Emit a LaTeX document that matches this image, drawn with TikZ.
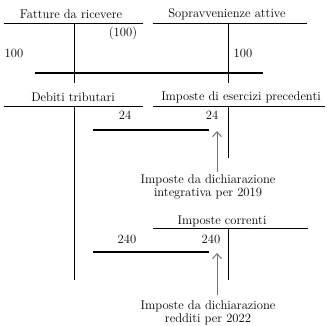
\documentclass[tikz,border=0pt]{standalone}
\usetikzlibrary{arrows.meta}
\begin{document}
\begin{tikzpicture}[x=1pt,y=-1pt,
  lbl/.style={inner sep=0pt,font=\fontsize{12.6}{12.5}\selectfont},
  thin/.style={line width=0.8pt},
  thick/.style={line width=2.2pt},
  gray arrow/.style={draw=black!55,line width=1pt,-{Straight Barb[length=5pt,width=9pt]}}]
\useasboundingbox (0,0) rectangle (327,326);
% top left account
\node[lbl] (t1) at (71,14) {Fatture da ricevere};
\coordinate (h1a) at (4,23); \coordinate (h1b) at (143,23);
\draw[thin] (h1a) -- (h1b);
\coordinate (v1a) at (74,23); \coordinate (v1b) at (74,83);
\draw[thin] (v1a) -- (v1b);
\node[lbl] (n100c) at (123,33) {(100)};
\node[lbl] (n100a) at (14,53) {100};
% top right account
\node[lbl] (t2) at (227,14) {Sopravvenienze attive};
\coordinate (h2a) at (153,23); \coordinate (h2b) at (307,23);
\draw[thin] (h2a) -- (h2b);
\coordinate (v2a) at (228,23); \coordinate (v2b) at (228,83);
\draw[thin] (v2a) -- (v2b);
\node[lbl] (n100b) at (243,53) {100};
\coordinate (k1a) at (35,73); \coordinate (k1b) at (263,73);
\draw[thick] (k1a) -- (k1b);
% Debiti tributari
\node[lbl] (t3) at (73,97) {Debiti tributari};
\coordinate (h3a) at (4,106); \coordinate (h3b) at (143,106);
\draw[thin] (h3a) -- (h3b);
\coordinate (v3a) at (74,106); \coordinate (v3b) at (74,280);
\draw[thin] (v3a) -- (v3b);
% Imposte di esercizi precedenti
\node[lbl] (t4) at (241,97) {Imposte di esercizi precedenti};
\coordinate (h4a) at (153,106); \coordinate (h4b) at (325,106);
\draw[thin] (h4a) -- (h4b);
\coordinate (v4a) at (228,106); \coordinate (v4b) at (228,158);
\draw[thin] (v4a) -- (v4b);
\node[lbl] (n24a) at (125,115) {24};
\node[lbl] (n24b) at (212,115) {24};
\coordinate (k2a) at (93,130); \coordinate (k2b) at (209,130);
\draw[thick] (k2a) -- (k2b);
\node[lbl,align=center] (c1) at (208,187) {Imposte da dichiarazione\\integrativa per 2019};
\coordinate (a1) at (217,131);
\draw[gray arrow] (217,172) -- (a1);
% Imposte correnti
\node[lbl] (t5) at (222,221) {Imposte correnti};
\coordinate (h5a) at (153,228); \coordinate (h5b) at (308,228);
\draw[thin] (h5a) -- (h5b);
\coordinate (v5a) at (228,228); \coordinate (v5b) at (228,280);
\draw[thin] (v5a) -- (v5b);
\node[lbl] (n240a) at (127,239) {240};
\node[lbl] (n240b) at (211,239) {240};
\coordinate (k3a) at (93,252); \coordinate (k3b) at (209,252);
\draw[thick] (k3a) -- (k3b);
\node[lbl,align=center] (c2) at (208,313) {Imposte da dichiarazione\\redditi per 2022};
\coordinate (a2) at (217,253);
\draw[gray arrow] (217,295) -- (a2);
\end{tikzpicture}
\end{document}
